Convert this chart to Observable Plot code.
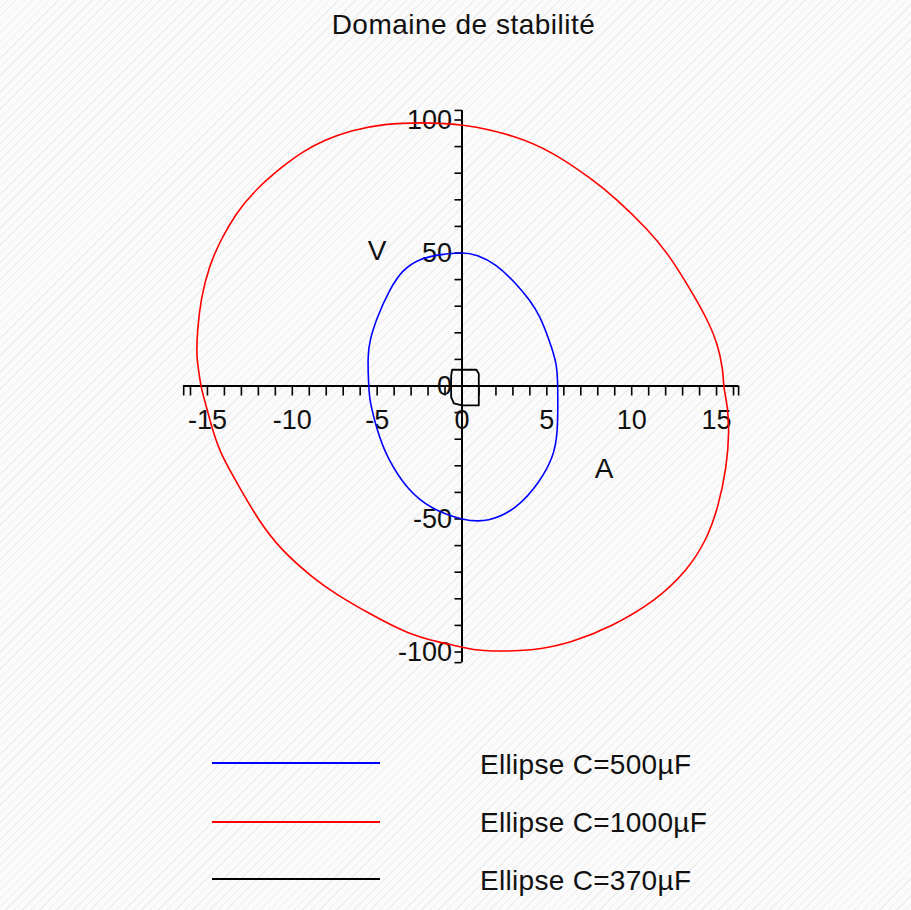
<!DOCTYPE html>
<html>
<head>
<meta charset="utf-8">
<script src="https://cdn.jsdelivr.net/npm/d3@7"></script>
<script src="https://cdn.jsdelivr.net/npm/@observablehq/plot@0.6"></script>
<style>
  html, body { margin: 0; padding: 0; }
  body {
    width: 911px; height: 910px; position: relative; overflow: hidden;
    font-family: "Liberation Sans", Arial, sans-serif; color: #111;
    background: repeating-linear-gradient(135deg, #fbfbfb 0px, #fbfbfb 5px, #ededed 5px, #ededed 6px);
  }
  #title { position: absolute; left: 0; top: 10.6px; width: 927px; text-align: center;
           font-size: 28px; line-height: 28px; letter-spacing: 0.5px; }
  #chart { position: absolute; left: 0; top: 50px; }
  .leg-line { position: absolute; left: 212px; width: 168px; height: 2px; }
  .leg-text { position: absolute; left: 480px; font-size: 28px; line-height: 28px; letter-spacing: 0.3px; white-space: nowrap; }
</style>
</head>
<body>
<div id="title">Domaine de stabilité</div>
<div id="chart"></div>
<div id="legend"></div>
<script>
// ---- data ----
const titleText = "Domaine de stabilité";
const seriesNames = ["Ellipse C=500µF", "Ellipse C=1000µF", "Ellipse C=370µF"];
const seriesColors = ["#0000ff", "#ff0000", "#000000"];

// Blue ellipse, C=500µF (closed curve, points in order)
const blueA = [0.08, -1.39, -2.52, -3.50, -4.30, -5.00, -5.45, -5.56, -5.50, -5.45, -5.00, -4.44, -3.19, -1.84, 0.08, 1.54, 3.23, 4.58, 5.37, 5.65, 5.65, 5.60, 5.15, 4.58, 4.02, 3.12, 1.99, 0.87];
const blueV = [50.3, 49.4, 47.8, 43.8, 36.0, 25.9, 17.1, 10.8, 0.2, -5.5, -16.7, -26.8, -39.3, -46.2, -50.6, -51.2, -46.2, -36.2, -26.8, -18.6, 0.2, 8.3, 17.1, 26.5, 32.1, 39.0, 45.9, 49.4];

// Red ellipse, C=1000µF
const redA = [0.08, -2.45, -4.55, -6.58, -8.16, -9.29, -10.64, -12.22, -13.35, -14.24, -14.92, -15.37, -15.60, -15.65, -15.51, -15.41, -15.11, -14.72, -14.24, -13.12, -11.99, -10.64, -8.83, -7.48, -5.45, -3.19, -1.39, 0.08, 0.87, 4.25, 6.50, 8.76, 11.46, 13.26, 14.40, 15.10, 15.60, 15.75, 15.65, 15.50, 15.41, 15.39, 15.07, 14.40, 13.26, 12.14, 11.01, 8.99, 7.63, 5.37, 3.12];
const redV = [98.6, 99.1, 98.6, 96.1, 92.3, 88.5, 82.3, 73.5, 64.7, 54.7, 44.7, 33.4, 20.9, 10.8, 5.8, 0.2, -6.7, -16.1, -25.5, -38.0, -50.6, -61.8, -71.9, -78.1, -85.6, -93.2, -96.3, -98.2, -99.7, -99.7, -96.3, -90.7, -80.6, -69.4, -58.1, -45.6, -30.5, -16.7, -8.0, -2.9, 0.2, 5.8, 15.9, 25.9, 38.4, 49.7, 58.5, 71.0, 77.9, 87.9, 94.2];

// Black ellipse, C=370µF
const blackA = [-0.58, 0.85, 0.99, 0.99, 0.01, -0.48, -0.64, -0.64];
const blackV = [6.1, 6.1, 4.6, -7.3, -7.3, -6.5, -4.2, 3.9];

// axes
const xTickLabels = [-15, -10, -5, 0, 5, 10, 15];
const yTickLabels = [-100, -50, 0, 50, 100];
const xMinorTicks = d3.range(-16, 17, 1);
const yMinorTicks = d3.range(-100, 101, 10);
const xAxisExtent = [-16.4, 16.3];
const yAxisExtent = [-104, 103.6];
const xAxisName = "A";
const yAxisName = "V";
const xNamePos = [8.37, -31.1];
const yNamePos = [-5.0, 50.6];

// ---- build ----
const toRows = (A, V, s) => A.map((a, i) => ({A: a, V: V[i], s}));
const curves = [
  toRows(blueA, blueV, seriesNames[0]),
  toRows(redA, redV, seriesNames[1]),
  toRows(blackA, blackV, seriesNames[2])
];
const curveTypes = ["basis-closed", "basis-closed", "linear-closed"];

// pixel geometry of the frame
const pxPerA = 16.97, pxPerV = 2.66;
const x0 = 461.5, y0 = 335.5;
const xTickLen = 10 / pxPerV;   // ticks below x-axis (data units of V)
const yTickLen = 7 / pxPerA;    // ticks left of y-axis (data units of A)
const allXTicks = xMinorTicks.concat(xAxisExtent);
const allYTicks = yMinorTicks.concat(yAxisExtent);

const marks = [
  Plot.ruleY([0], {x1: xAxisExtent[0], x2: xAxisExtent[1], stroke: "#000", strokeWidth: 2}),
  Plot.ruleX([0], {y1: yAxisExtent[0], y2: yAxisExtent[1], stroke: "#000", strokeWidth: 2}),
  Plot.ruleX(allXTicks, {x: d => d, y1: 0, y2: -xTickLen, stroke: "#000", strokeWidth: 1.6}),
  Plot.ruleY(allYTicks, {y: d => d, x1: -yTickLen, x2: 0, stroke: "#000", strokeWidth: 1.6}),
  Plot.text(xTickLabels, {x: d => d, y: 0, text: d => String(d), dy: 34, fontSize: 27, fill: "#111"}),
  Plot.text(yTickLabels, {x: 0, y: d => d, text: d => String(d), dx: -10, textAnchor: "end", fontSize: 27, fill: "#111"}),
  Plot.text([xAxisName], {x: xNamePos[0], y: xNamePos[1], text: d => d, fontSize: 28, fill: "#111"}),
  Plot.text([yAxisName], {x: yNamePos[0], y: yNamePos[1], text: d => d, fontSize: 28, fill: "#111"}),
  ...curves.map((rows, i) => Plot.line(rows, {x: "A", y: "V", stroke: seriesColors[i], strokeWidth: i === 2 ? 1.8 : 1.6, curve: curveTypes[i]}))
];

const chart = Plot.plot({
  width: 911,
  height: 700,
  margin: 0,
  style: {background: "transparent", fontFamily: "'Liberation Sans', Arial, sans-serif", overflow: "visible"},
  x: {domain: [-20, 20], range: [x0 - 20 * pxPerA, x0 + 20 * pxPerA], axis: null},
  y: {domain: [-125, 125], range: [y0 + 125 * pxPerV, y0 - 125 * pxPerV], axis: null},
  marks
});
document.getElementById("chart").appendChild(chart);
document.getElementById("title").textContent = titleText;

// legend (below the chart)
const legend = document.getElementById("legend");
const legendLineY = [763, 821.5, 879];
seriesNames.forEach((name, i) => {
  const ln = document.createElement("div");
  ln.className = "leg-line";
  ln.style.top = (legendLineY[i] - 1) + "px";
  ln.style.background = seriesColors[i];
  legend.appendChild(ln);
  const tx = document.createElement("div");
  tx.className = "leg-text";
  tx.style.top = (legendLineY[i] - 12.4) + "px";
  tx.textContent = name;
  legend.appendChild(tx);
});
</script>
</body>
</html>
